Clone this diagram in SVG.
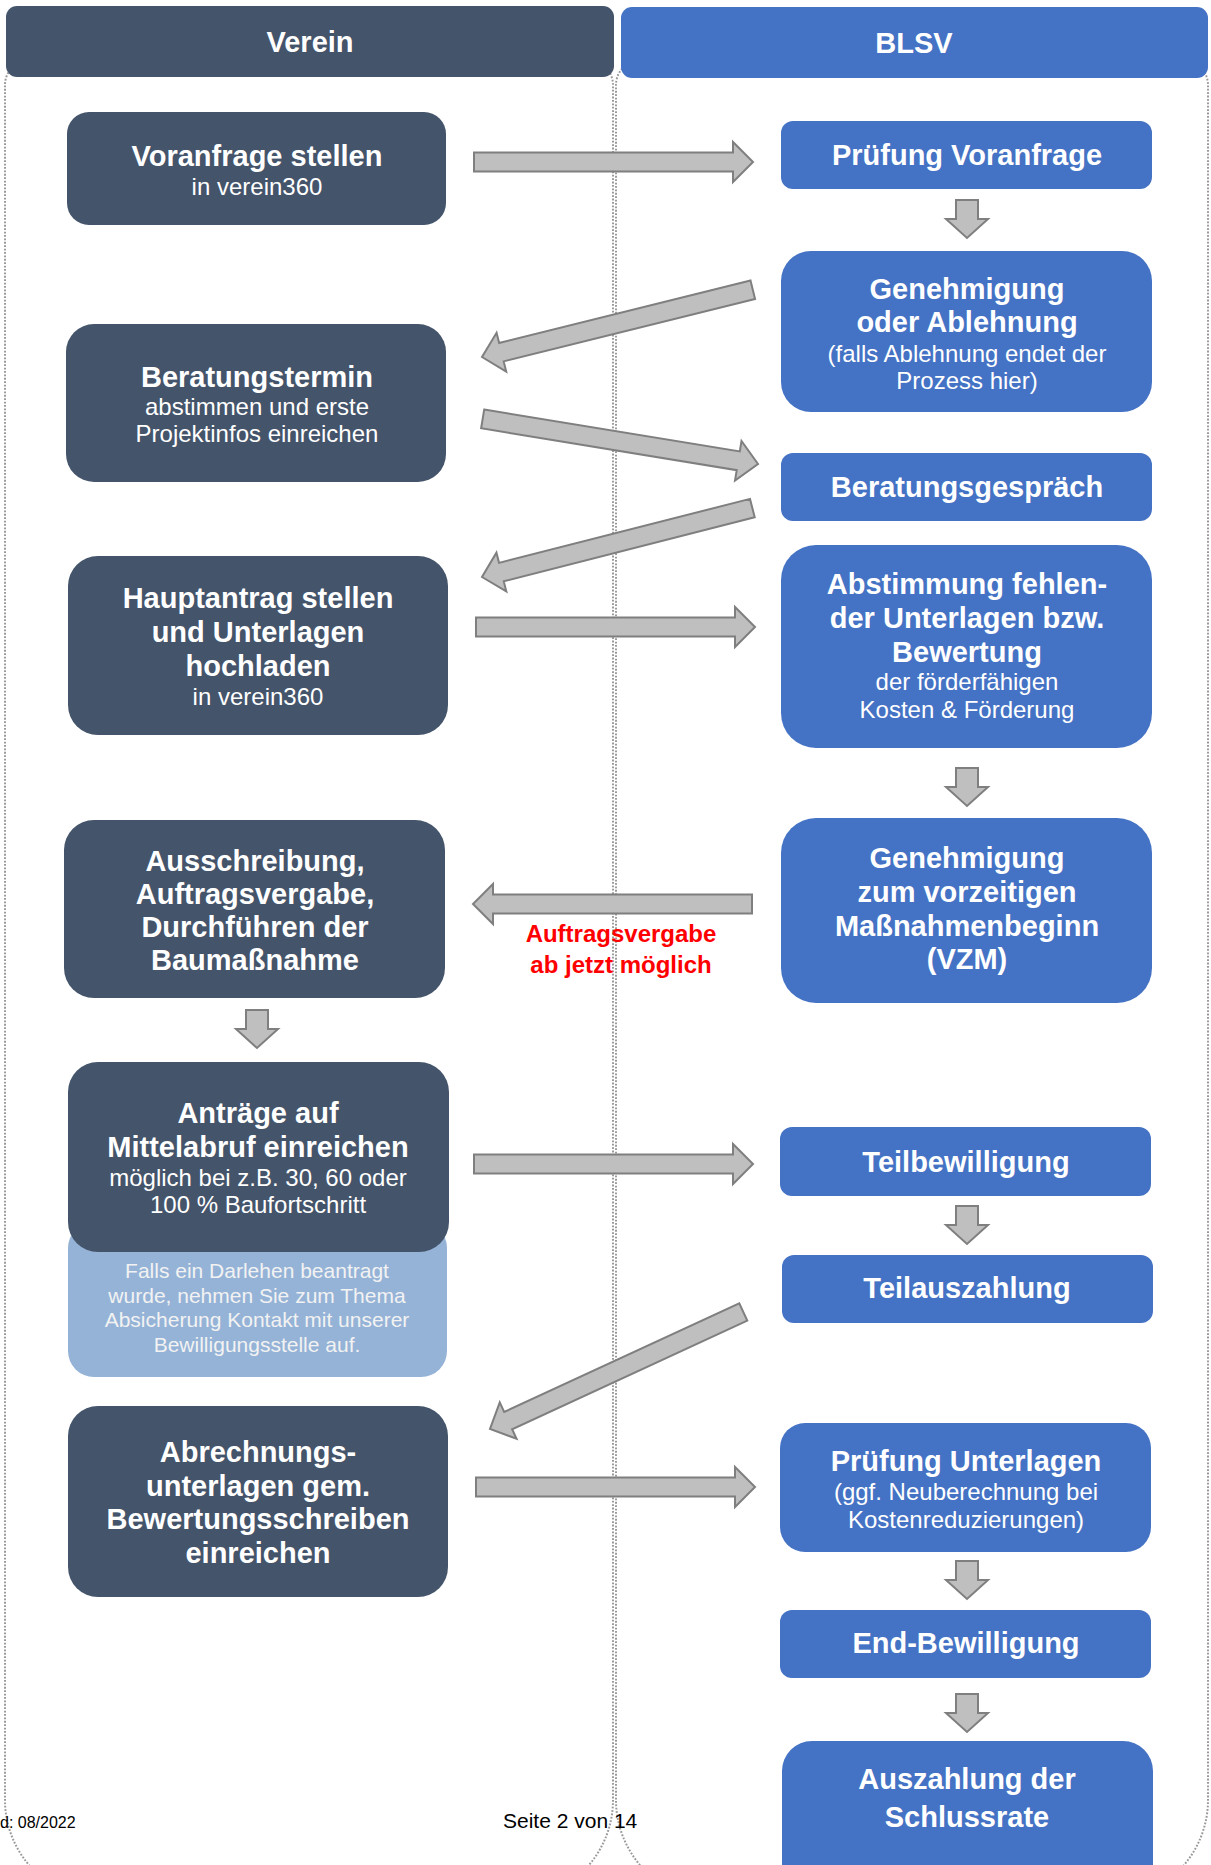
<svg xmlns="http://www.w3.org/2000/svg" xmlns:xlink="http://www.w3.org/1999/xlink" width="1211" height="1865" viewBox="0 0 1211 1865">
<style>
.lane{fill:none;stroke:#9a9a9a;stroke-width:2;stroke-dasharray:1.8 1.6}
.dk{fill:#44546a}
.bl{fill:#4472c4}
.lt{fill:#95b3d7}
.arr{fill:#bfbfbf;stroke:#7f7f7f;stroke-width:2;stroke-linejoin:miter}
text{font-family:"Liberation Sans",Arial,sans-serif;fill:#ffffff;text-anchor:middle}
.b{font-weight:bold;font-size:29px}
.r{font-size:24px}
.n{font-size:21px;fill:#f2f2f2}
.red{fill:#ff0000;font-weight:bold;font-size:24px}
.ft{fill:#000000;text-anchor:start}
</style>
<defs>
<path id="arrH" class="arr" d="M-279,-9.5 H-20 V-20 L0,0 L-20,20 V9.5 H-279 Z"/>
<path id="arrV" class="arr" d="M-11,-38 H11 V-19 H21 L0,0 L-21,-19 H-11 Z"/>
</defs>
<rect width="1211" height="1865" fill="#ffffff"/>

<g id="lanes">
<path class="lane" d="M30,60 H588 A25,25 0 0 1 613,85 V1800 A100,100 0 0 1 513,1900 H105 A100,100 0 0 1 5,1800 V85 A25,25 0 0 1 30,60 Z"/>
<path class="lane" d="M641,60 H1183 A25,25 0 0 1 1208,85 V1800 A100,100 0 0 1 1108,1900 H716 A100,100 0 0 1 616,1800 V85 A25,25 0 0 1 641,60 Z"/>
</g>

<g id="header-verein">
<rect class="dk" x="6" y="6" width="608" height="71" rx="11"/>
<text class="b" x="310" y="52">Verein</text>
</g>
<g id="header-blsv">
<rect class="bl" x="621" y="7" width="587" height="71" rx="11"/>
<text class="b" x="914" y="53">BLSV</text>
</g>

<g id="connectors">
<use xlink:href="#arrH" transform="translate(753,162)"/>
<use xlink:href="#arrH" transform="translate(482,357) rotate(166.06)"/>
<use xlink:href="#arrH" transform="translate(758,464) rotate(9.3)"/>
<use xlink:href="#arrH" transform="translate(482,577) rotate(165.7)"/>
<use xlink:href="#arrH" transform="translate(755,627)"/>
<use xlink:href="#arrH" transform="translate(473,904) rotate(180)"/>
<use xlink:href="#arrH" transform="translate(753,1164)"/>
<use xlink:href="#arrH" transform="translate(490,1429) rotate(155.2)"/>
<use xlink:href="#arrH" transform="translate(755,1487)"/>
<use xlink:href="#arrV" transform="translate(967,238)"/>
<use xlink:href="#arrV" transform="translate(967,806)"/>
<use xlink:href="#arrV" transform="translate(967,1244)"/>
<use xlink:href="#arrV" transform="translate(967,1599)"/>
<use xlink:href="#arrV" transform="translate(967,1732)"/>
<use xlink:href="#arrV" transform="translate(257,1048)"/>
<text class="red" x="621" y="942">Auftragsvergabe</text>
<text class="red" x="621" y="973">ab jetzt möglich</text>
</g>

<g id="n-voranfrage">
<rect class="dk" x="67" y="112" width="379" height="113" rx="22"/>
<text class="b" x="257" y="166">Voranfrage stellen</text>
<text class="r" x="257" y="195">in verein360</text>
</g>
<g id="n-beratungstermin">
<rect class="dk" x="66" y="324" width="380" height="158" rx="28"/>
<text class="b" x="257" y="387">Beratungstermin</text>
<text class="r" x="257" y="415">abstimmen und erste</text>
<text class="r" x="257" y="442">Projektinfos einreichen</text>
</g>
<g id="n-hauptantrag">
<rect class="dk" x="68" y="556" width="380" height="179" rx="30"/>
<text class="b" x="258" y="608">Hauptantrag stellen</text>
<text class="b" x="258" y="642">und Unterlagen</text>
<text class="b" x="258" y="676">hochladen</text>
<text class="r" x="258" y="705">in verein360</text>
</g>
<g id="n-ausschreibung">
<rect class="dk" x="64" y="820" width="381" height="178" rx="30"/>
<text class="b" x="255" y="871">Ausschreibung,</text>
<text class="b" x="255" y="904">Auftragsvergabe,</text>
<text class="b" x="255" y="937">Durchführen der</text>
<text class="b" x="255" y="970">Baumaßnahme</text>
</g>
<g id="n-hinweis">
<rect class="lt" x="68" y="1222" width="379" height="155" rx="26"/>
<text class="n" x="257" y="1278">Falls ein Darlehen beantragt</text>
<text class="n" x="257" y="1303">wurde, nehmen Sie zum Thema</text>
<text class="n" x="257" y="1327">Absicherung Kontakt mit unserer</text>
<text class="n" x="257" y="1352">Bewilligungsstelle auf.</text>
</g>
<g id="n-antraege">
<rect class="dk" x="68" y="1062" width="381" height="190" rx="30"/>
<text class="b" x="258" y="1123">Anträge auf</text>
<text class="b" x="258" y="1157">Mittelabruf einreichen</text>
<text class="r" x="258" y="1186">möglich bei z.B. 30, 60 oder</text>
<text class="r" x="258" y="1213">100 % Baufortschritt</text>
</g>
<g id="n-abrechnung">
<rect class="dk" x="68" y="1406" width="380" height="191" rx="30"/>
<text class="b" x="258" y="1462">Abrechnungs-</text>
<text class="b" x="258" y="1496">unterlagen gem.</text>
<text class="b" x="258" y="1529">Bewertungsschreiben</text>
<text class="b" x="258" y="1563">einreichen</text>
</g>

<g id="n-pruefung-voranfrage">
<rect class="bl" x="781" y="121" width="371" height="68" rx="12"/>
<text class="b" x="967" y="165">Prüfung Voranfrage</text>
</g>
<g id="n-genehmigung">
<rect class="bl" x="781" y="251" width="371" height="161" rx="30"/>
<text class="b" x="967" y="299">Genehmigung</text>
<text class="b" x="967" y="332">oder Ablehnung</text>
<text class="r" x="967" y="362">(falls Ablehnung endet der</text>
<text class="r" x="967" y="389">Prozess hier)</text>
</g>
<g id="n-beratungsgespraech">
<rect class="bl" x="781" y="453" width="371" height="68" rx="12"/>
<text class="b" x="967" y="497">Beratungsgespräch</text>
</g>
<g id="n-abstimmung">
<rect class="bl" x="781" y="545" width="371" height="203" rx="35"/>
<text class="b" x="967" y="594">Abstimmung fehlen-</text>
<text class="b" x="967" y="628">der Unterlagen bzw.</text>
<text class="b" x="967" y="662">Bewertung</text>
<text class="r" x="967" y="690">der förderfähigen</text>
<text class="r" x="967" y="718">Kosten &amp; Förderung</text>
</g>
<g id="n-vzm">
<rect class="bl" x="781" y="818" width="371" height="185" rx="35"/>
<text class="b" x="967" y="868">Genehmigung</text>
<text class="b" x="967" y="902">zum vorzeitigen</text>
<text class="b" x="967" y="936">Maßnahmenbeginn</text>
<text class="b" x="967" y="969">(VZM)</text>
</g>
<g id="n-teilbewilligung">
<rect class="bl" x="780" y="1127" width="371" height="69" rx="12"/>
<text class="b" x="966" y="1172">Teilbewilligung</text>
</g>
<g id="n-teilauszahlung">
<rect class="bl" x="782" y="1255" width="371" height="68" rx="12"/>
<text class="b" x="967" y="1298">Teilauszahlung</text>
</g>
<g id="n-pruefung-unterlagen">
<rect class="bl" x="780" y="1423" width="371" height="129" rx="25"/>
<text class="b" x="966" y="1471">Prüfung Unterlagen</text>
<text class="r" x="966" y="1500">(ggf. Neuberechnung bei</text>
<text class="r" x="966" y="1528">Kostenreduzierungen)</text>
</g>
<g id="n-end-bewilligung">
<rect class="bl" x="780" y="1610" width="371" height="68" rx="12"/>
<text class="b" x="966" y="1653">End-Bewilligung</text>
</g>
<g id="n-auszahlung">
<rect class="bl" x="782" y="1741" width="371" height="160" rx="30"/>
<text class="b" x="967" y="1789">Auszahlung der</text>
<text class="b" x="967" y="1827">Schlussrate</text>
</g>

<g id="footer">
<text class="ft" x="0" y="1828" font-size="16">d: 08/2022</text>
<text class="ft" x="503" y="1828" font-size="21">Seite 2 von 14</text>
</g>
</svg>
